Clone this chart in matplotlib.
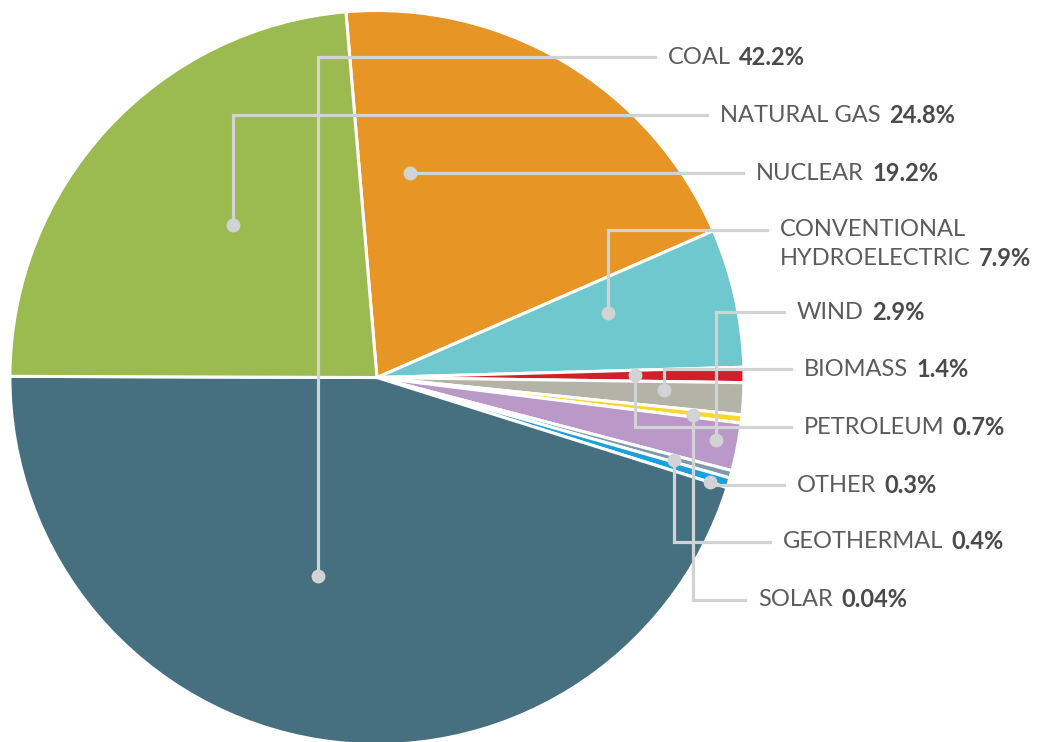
import matplotlib.pyplot as plt
import numpy as np

# label order
sources = ['COAL', 'NATURAL GAS', 'NUCLEAR', 'CONVENTIONAL\nHYDROELECTRIC', 'WIND',
           'BIOMASS', 'PETROLEUM', 'OTHER', 'GEOTHERMAL', 'SOLAR']
shares = ['42.2%', '24.8%', '19.2%', '7.9%', '2.9%', '1.4%', '0.7%', '0.3%', '0.4%', '0.04%']
# slice sizes as drawn in the original (not quite the labelled shares)
drawn = [45.2, 23.6, 19.8, 6.1, 2.1, 1.4, 0.67, 0.33, 0.44, 0.36]
colors = ['#466f80', '#9bba50', '#e79525', '#6fc8cd', '#ba98c8',
          '#b3b3a8', '#d0202a', '#7c9baa', '#1aa0dc', '#f6d92c']
# order of slices clockwise from the top
pie_order = [2, 3, 6, 5, 9, 4, 7, 8, 0, 1]

# leader line layout, in pie radius units
dots = [(-0.161, -0.541), (-0.392, 0.416), (0.090, 0.557), (0.629, 0.176), (0.924, -0.170),
        (0.782, -0.034), (0.703, 0.007), (0.907, -0.285), (0.809, -0.225), (0.861, -0.102)]
label_y = [0.873, 0.715, 0.557, 0.402, 0.178, 0.023, -0.135, -0.293, -0.448, -0.606]
label_x = [0.793, 0.935, 1.033, 1.098, 1.144, 1.163, 1.163, 1.144, 1.106, 1.038]

line_col = '#d1d3d4'
name_col = '#5a5b5d'
pct_col = '#4a4a4a'
font = 'Lato'
fs = 17

fig = plt.figure(figsize=(10.46, 7.42), dpi=100)
ax = fig.add_axes([0, 0, 1, 1])

ax.pie([drawn[i] for i in pie_order], colors=[colors[i] for i in pie_order],
       startangle=94.85, counterclock=False, radius=1,
       wedgeprops=dict(edgecolor='white', linewidth=2.2))

for i in range(len(sources)):
    dx, dy = dots[i]
    ly = label_y[i]
    lx = label_x[i]
    ax.plot([dx, dx, lx - 0.035], [dy, ly, ly], color=line_col, lw=2.3,
            solid_joinstyle='miter', zorder=3)
    ax.plot(dx, dy, 'o', color=line_col, ms=9, zorder=4)

    lines = sources[i].split('\n')
    if len(lines) > 1:
        # first line sits on the leader line, the rest below it
        ax.text(lx, ly, lines[0], fontsize=fs, family=font, fontweight='normal',
                color=name_col, va='center', ha='left', zorder=5)
        ly2 = ly - 0.079
    else:
        ly2 = ly
    t = ax.text(lx, ly2, lines[-1], fontsize=fs, family=font, fontweight='normal',
                color=name_col, va='center', ha='left', zorder=5)
    ax.annotate(shares[i], xy=(1, 0.5), xycoords=t, xytext=(6, 0),
                textcoords='offset points', fontsize=fs, family=font,
                fontweight='bold', color=pct_col, va='center', ha='left', zorder=5)

ax.set_xlim(-1.027, 1.823)
ax.set_ylim(-0.993, 1.0286)
ax.set_aspect('equal')
ax.axis('off')

fig.savefig('out.png', dpi=100)
